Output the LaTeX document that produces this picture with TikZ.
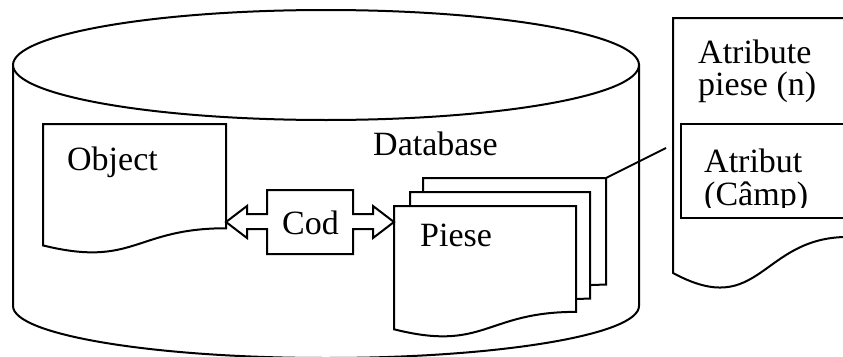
\documentclass[tikz,border=0pt]{standalone}
\usepackage{fontspec}
\setmainfont{Liberation Serif}
\newcommand\wdocshape[4]{%
  \filldraw[shp] (#1,#2) -- ({#1+#3},#2) -- ({#1+#3},{#2+0.802*#4})
    .. controls ({#1+0.5*#3},{#2+0.802*#4}) and ({#1+0.5*#3},{#2+1.1075*#4}) ..
    (#1,{#2+0.934*#4}) -- cycle;}
\begin{document}
\begin{tikzpicture}[x=1pt,y=-1pt,
  shp/.style={draw=black,fill=white,line width=2pt,line join=miter},
  lbl/.style={anchor=base west,inner sep=0pt,font=\fontsize{34}{34}\selectfont}]
\useasboundingbox (0,0) rectangle (843,356);
\clip (0,0) rectangle (843,356);
% cylinder
\filldraw[shp] (13,65) -- (13,306) arc[start angle=180,end angle=0,x radius=313,y radius=52] -- (639,65) -- cycle;
\filldraw[shp] (326,65) ellipse[x radius=313,y radius=55];
\node[lbl] (db) at (373,155) {Database};
% object document
\wdocshape{43}{124}{183}{130}
\node[lbl] (obj) at (67,170) {Object};
% piese documents
\wdocshape{423}{178}{183}{133}
\wdocshape{410}{192}{180}{133}
\wdocshape{394}{206}{182}{132}
\node[lbl] (piese) at (420,246) {Piese};
% cod left-right arrow callout
\filldraw[shp] (267,190) -- (353,190) -- (353,214) -- (373,214) -- (373,206) -- (394,222)
  -- (373,238) -- (373,229) -- (353,229) -- (353,254) -- (267,254) -- (267,229)
  -- (247,229) -- (247,238) -- (226,222) -- (247,206) -- (247,214) -- (267,214) -- cycle;
\node[lbl] (cod) at (282,234) {Cod};
% connector
\coordinate (pb) at (606,178);
\coordinate (le) at (666,148);
\draw[line width=2pt] (pb) -- (le);
% right document
\wdocshape{673}{18}{175}{273}
\node[lbl] (at1) at (698,63) {Atribute};
\node[lbl] (at2) at (698,95) {piese (n)};
\filldraw[shp] (681,124) rectangle (860,218);
\begin{scope}
\clip (681,124) rectangle (860,207);
\node[lbl] (at3) at (704,172) {Atribut};
\node[lbl] (at4) at (704,205) {(Câmp)};
\end{scope}
\end{tikzpicture}
\end{document}
